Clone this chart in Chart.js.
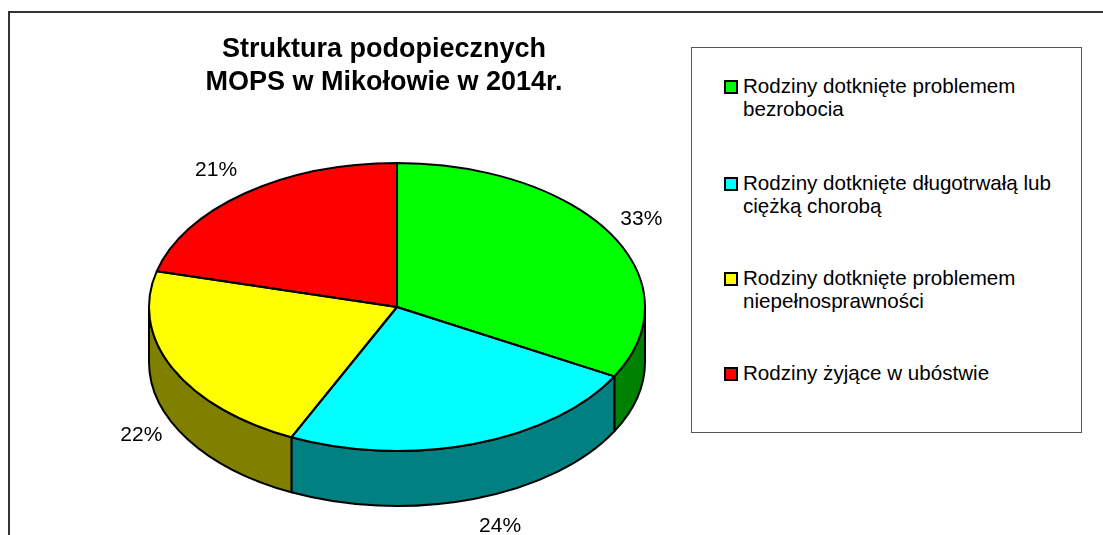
<!DOCTYPE html>
<html>
<head>
<meta charset="utf-8">
<script src="https://cdn.jsdelivr.net/npm/chart.js@4/dist/chart.umd.min.js"></script>
<style>
html,body{margin:0;padding:0;background:#fff;}
#wrap{position:relative;width:1103px;height:535px;overflow:hidden;background:#fff;font-family:"Liberation Sans",Arial,sans-serif;color:#000;}
#frame{position:absolute;left:8px;top:11px;width:1300px;height:800px;border-left:2px solid #333;border-top:2px solid #333;}
#c{position:absolute;left:0;top:0;}
#title{position:absolute;left:134px;width:500px;top:32px;text-align:center;font-weight:bold;font-size:27px;line-height:33px;white-space:nowrap;}
#legend{position:absolute;left:691px;top:47px;width:389px;height:384px;border:1px solid #555;background:#fff;}
.item{position:absolute;left:51px;width:335px;font-size:20.6px;line-height:23px;}
.sw{position:absolute;left:-19px;top:6px;width:14px;height:14px;box-sizing:border-box;border:2px solid #000;}
</style>
</head>
<body>
<div id="wrap">
  <div id="frame"></div>
  <canvas id="c" width="1103" height="535"></canvas>
  <div id="title"></div>
  <div id="legend"></div>
</div>
<script>
const titleLines = ['Struktura podopiecznych', 'MOPS w Mikołowie w 2014r.'];
const categories = [
  'Rodziny dotknięte problemem bezrobocia',
  'Rodziny dotknięte długotrwałą lub ciężką chorobą',
  'Rodziny dotknięte problemem niepełnosprawności',
  'Rodziny żyjące w ubóstwie'
];
const shares = [33, 24, 22, 21];
const topColors = ['#00FF00', '#00FFFF', '#FFFF00', '#FF0000'];
const sideColors = ['#008000', '#008080', '#808000', '#800000'];

// Title
const titleEl = document.getElementById('title');
titleLines.forEach(t => { const d = document.createElement('div'); d.textContent = t; titleEl.appendChild(d); });

// Legend
const legendEl = document.getElementById('legend');
const itemTops = [26, 123, 218, 313];
categories.forEach((c, i) => {
  const it = document.createElement('div');
  it.className = 'item';
  it.style.top = itemTops[i] + 'px';
  const sw = document.createElement('span');
  sw.className = 'sw';
  sw.style.background = topColors[i];
  it.appendChild(sw);
  it.appendChild(document.createTextNode(c));
  legendEl.appendChild(it);
});

const pie3d = {
  id: 'pie3d',
  beforeDatasetsDraw(chart, args, opts) {
    const ctx = chart.ctx;
    const meta = chart.getDatasetMeta(0);
    const k = opts.tilt, depth = opts.depth;
    ctx.save();
    ctx.lineWidth = opts.lineWidth;
    ctx.strokeStyle = '#000';
    ctx.lineJoin = 'round';
    meta.data.forEach((arc, i) => {
      const p = arc.getProps(['x', 'y', 'startAngle', 'endAngle', 'outerRadius'], true);
      const rx = p.outerRadius, ry = p.outerRadius * k;
      const a0 = Math.max(p.startAngle, 0), a1 = Math.min(p.endAngle, Math.PI);
      if (a1 <= a0) return;
      ctx.beginPath();
      ctx.ellipse(p.x, p.y, rx, ry, 0, a0, a1, false);
      ctx.lineTo(p.x + rx * Math.cos(a1), p.y + ry * Math.sin(a1) + depth);
      ctx.ellipse(p.x, p.y + depth, rx, ry, 0, a1, a0, true);
      ctx.closePath();
      ctx.fillStyle = sideColors[i];
      ctx.fill();
      ctx.stroke();
    });
    ctx.restore();
    const c0 = meta.data[0];
    ctx.save();
    ctx.translate(0, c0.y);
    ctx.scale(1, k);
    ctx.translate(0, -c0.y);
  },
  afterDatasetsDraw(chart, args, opts) {
    const ctx = chart.ctx;
    ctx.restore();
    const meta = chart.getDatasetMeta(0);
    const k = opts.tilt, depth = opts.depth;
    const data = chart.data.datasets[0].data;
    ctx.save();
    ctx.lineWidth = opts.lineWidth;
    ctx.strokeStyle = '#000';
    ctx.lineJoin = 'round';
    meta.data.forEach((arc) => {
      const p = arc.getProps(['x', 'y', 'startAngle', 'endAngle', 'outerRadius'], true);
      const rx = p.outerRadius, ry = p.outerRadius * k;
      ctx.beginPath();
      ctx.moveTo(p.x, p.y);
      ctx.lineTo(p.x + rx * Math.cos(p.startAngle), p.y + ry * Math.sin(p.startAngle));
      ctx.ellipse(p.x, p.y, rx, ry, 0, p.startAngle, p.endAngle, false);
      ctx.closePath();
      ctx.stroke();
    });
    ctx.fillStyle = '#000';
    ctx.font = '21px "Liberation Sans", Arial, sans-serif';
    ctx.textAlign = 'center';
    ctx.textBaseline = 'middle';
    meta.data.forEach((arc, i) => {
      const p = arc.getProps(['x', 'y', 'startAngle', 'endAngle', 'outerRadius'], true);
      const rx = p.outerRadius, ry = p.outerRadius * k;
      const mid = (p.startAngle + p.endAngle) / 2;
      const s = Math.sin(mid), c = Math.cos(mid);
      const lx = p.x + (rx + opts.labelDx) * c + opts.labelPad * Math.sign(c);
      const ly = p.y + (ry + opts.labelDy) * s + (s > 0 ? depth : 0);
      ctx.fillText(data[i] + '%', lx, ly);
    });
    ctx.restore();
  }
};

new Chart(document.getElementById('c'), {
  type: 'pie',
  data: {
    labels: categories,
    datasets: [{
      data: shares,
      backgroundColor: topColors,
      borderWidth: 0,
      radius: 248,
      clip: false
    }]
  },
  options: {
    responsive: false,
    animation: false,
    events: [],
    layout: { padding: { left: 149, right: 458, top: 207, bottom: 128 } },
    plugins: {
      legend: { display: false },
      title: { display: false },
      tooltip: { enabled: false },
      pie3d: { tilt: 144 / 248, depth: 55, lineWidth: 2, labelDx: 8, labelPad: 24, labelDy: 29 }
    }
  },
  plugins: [pie3d]
});
</script>
</body>
</html>
